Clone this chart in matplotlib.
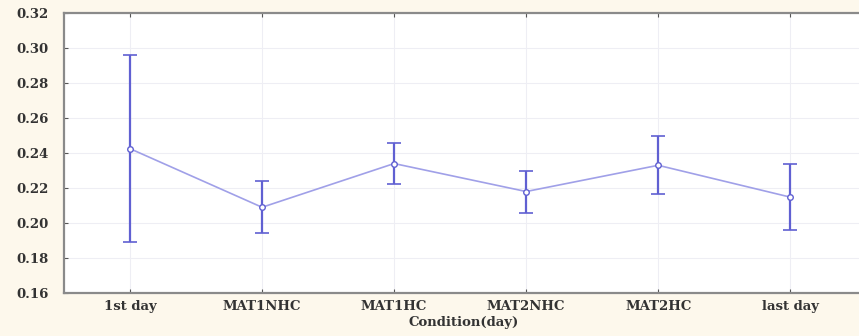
import matplotlib
matplotlib.use("Agg")
import matplotlib.pyplot as plt
import numpy as np

categories = ["1st day", "MAT1NHC", "MAT1HC", "MAT2NHC", "MAT2HC", "last day"]
means = [0.2425, 0.2090, 0.2340, 0.2180, 0.2330, 0.2148]
upper = [0.2960, 0.2240, 0.2460, 0.2298, 0.2497, 0.2338]
lower = [0.1892, 0.1942, 0.2222, 0.2060, 0.2165, 0.1960]
yticks = [0.16, 0.18, 0.20, 0.22, 0.24, 0.26, 0.28, 0.30, 0.32]

bg = "#fdf8ec"
fig = plt.figure(figsize=(8.59, 3.36), dpi=100, facecolor=bg)
ax = fig.add_axes([0.0745, 0.128, 0.93, 0.833])
ax.set_facecolor("white")

x = np.arange(len(categories))
m = np.array(means)
yerr = np.vstack([m - np.array(lower), np.array(upper) - m])

ax.plot(x, m, color="#a0a0e8", lw=1.2, zorder=3)
ax.errorbar(x, m, yerr=yerr, fmt="none", ecolor="#6060d2", elinewidth=1.6,
            capsize=5, capthick=1.2, zorder=4)
ax.plot(x, m, "o", ms=4, mfc="white", mec="#6060d2", mew=1.0, zorder=5)

ax.set_xlim(-0.5, 5.55)
ax.set_ylim(0.16, 0.32)
ax.set_yticks(yticks)
ax.set_yticklabels([f"{v:.2f}" for v in yticks])
ax.set_xticks(x)
ax.set_xticklabels(categories)

ax.grid(True, color="#eeeef4", lw=0.8)
ax.set_axisbelow(True)

for s in ["left", "bottom", "top"]:
    ax.spines[s].set_color("#8a8a8a")
    ax.spines[s].set_linewidth(1.6)
ax.spines["right"].set_visible(False)

ax.tick_params(axis="both", direction="in", length=3, color="#555555",
               labelsize=9.5, labelcolor="#333333", top=True, right=True)
ax.tick_params(axis="y", pad=11)
ax.tick_params(axis="x", pad=5)
for lab in ax.get_xticklabels() + ax.get_yticklabels():
    lab.set_fontweight("bold")
    lab.set_fontfamily("DejaVu Serif")

ax.set_xlabel("Condition(day)", fontsize=9.5, fontweight="bold", color="#333333",
              family="DejaVu Serif", labelpad=2)

fig.savefig("out.png", dpi=100, facecolor=bg)
